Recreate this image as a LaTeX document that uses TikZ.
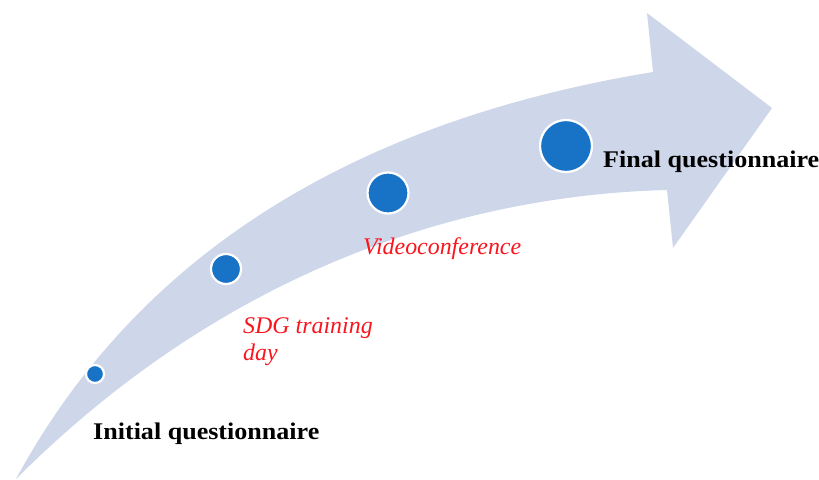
\documentclass[tikz,border=0pt]{standalone}
\usepackage{fontspec}
\setmainfont{Liberation Serif}
\newfontfamily\headfont{Liberation Serif}[FakeStretch=1.09]
\definecolor{shaftblue}{RGB}{206,214,234}
\definecolor{dotblue}{RGB}{24,115,199}
\definecolor{notered}{RGB}{250,20,30}
\tikzset{
  milestone/.style={circle, fill=dotblue, draw=white, line width=2.2bp, inner sep=0pt},
  mainlabel/.style={anchor=base west, inner sep=0pt, font=\headfont\fontsize{24}{27}\selectfont\bfseries, text=black},
  sidelabel/.style={anchor=base west, inner sep=0pt, align=left, font=\fontsize{24}{27}\selectfont\itshape, text=notered},
}
\begin{document}
\begin{tikzpicture}[x=1bp, y=-1bp]
\useasboundingbox (0,0) rectangle (819,480);

% curved progress arrow
\fill[shaftblue]
  (16,479) .. controls (140,250) and (360,120) .. (653,72)
  -- (647,13) -- (772,108) -- (673,248) -- (667,190)
  .. controls (470,195) and (230,265) .. (16,479) -- cycle;

% milestones along the arrow
\node[milestone, minimum size=18bp] (m1) at (95,374) {};
\node[milestone, minimum size=30bp] (m2) at (226,269) {};
\node[milestone, minimum size=41bp] (m3) at (388,193) {};
\node[milestone, minimum size=52bp] (m4) at (566,146) {};

% labels (a two-line node sits on the baseline of its last line)
\node[mainlabel] (initial) at (93,439) {Initial questionnaire};
\node[sidelabel] (training) at (243,360) {SDG training\\day};
\node[sidelabel] (video) at (363,255) {Videoconference};
\node[mainlabel] (final) at (603,168) {Final questionnaire};
\end{tikzpicture}
\end{document}
